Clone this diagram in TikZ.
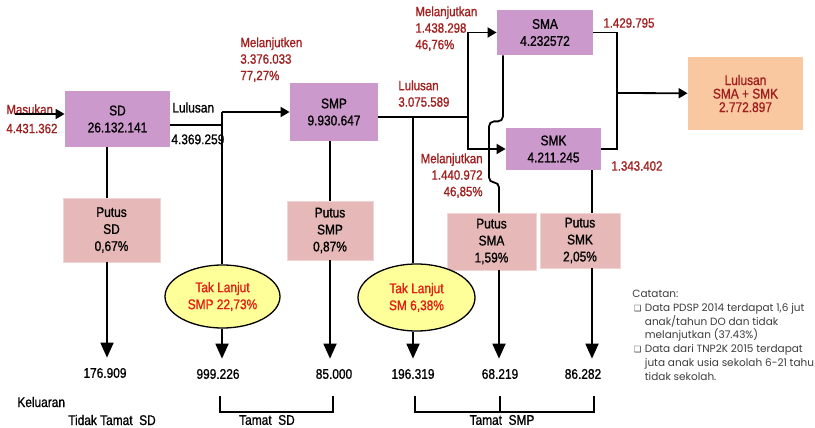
\documentclass[tikz,border=0pt]{standalone}
\usepackage{fontspec}
\setmainfont{Liberation Sans}[FakeStretch=0.85, FakeBold=1]
\newfontfamily\notefont{Poppins}
\newfontfamily\symfont{DejaVu Sans}
\usepackage{tikz}
\usetikzlibrary{shapes.geometric, arrows.meta, calc}
\definecolor{boxpurple}{RGB}{204,153,204}
\definecolor{putuspink}{RGB}{230,185,184}
\definecolor{takyellow}{RGB}{255,255,153}
\definecolor{lulusorange}{RGB}{250,200,160}
\definecolor{darkred}{RGB}{160,30,30}
\definecolor{takred}{RGB}{228,30,20}
\definecolor{notegray}{RGB}{60,60,60}
\newcommand{\bul}{\makebox[12.5pt][l]{\hspace{1.5pt}\symfont\fontsize{8.5}{8.5}\selectfont ❑}}
\newcommand{\ind}{\makebox[12.5pt][l]{}}
\tikzstyle{level} = [rectangle, font=\fontsize{14}{17}\selectfont, align=center, fill=boxpurple, inner sep=0pt]
\tikzstyle{putus} = [rectangle, font=\fontsize{14}{17}\selectfont, align=center, fill=putuspink, draw=putuspink!60!white, inner sep=0pt]
\tikzstyle{taklanjut} = [ellipse, font=\fontsize{14}{17}\selectfont, align=center, text=takred, fill=takyellow, draw=black, line width=1.3pt, inner sep=0pt]
\tikzstyle{redlabel} = [font=\fontsize{13.5}{16.5}\selectfont, text=darkred, align=left, inner sep=0pt]
\tikzstyle{blacktext} = [font=\fontsize{14}{17}\selectfont, inner sep=0pt]
\tikzstyle{outnum} = [font=\fontsize{14}{17}\selectfont, inner xsep=0pt, inner ysep=10pt]
\tikzstyle{catatan} = [font=\notefont\fontsize{10.5}{13.7}\selectfont, text=notegray, align=left, inner sep=0pt]
\tikzstyle{conn} = [line width=1.8pt]
\tikzstyle{arrow} = [line width=1.8pt,->,>={Triangle[length=9pt,width=10pt]}]
\tikzstyle{bigarrow} = [line width=1.8pt,->,>={Triangle[length=15pt,width=13pt]}]
\tikzstyle{bracket} = [line width=1.5pt]

\begin{document}
\begin{tikzpicture}[x=1pt,y=-1pt,thick]
\useasboundingbox (0,0) rectangle (815,428);
\clip (0,0) rectangle (815,428);

% levels
\node (sd) [level, minimum width=105pt, minimum height=56pt] at (117.5,119) {SD\\26.132.141};
\node (smp) [level, minimum width=88pt, minimum height=58pt] at (334,112) {SMP\\9.930.647};
\node (sma) [level, minimum width=96pt, minimum height=45pt] at (545,32.5) {SMA\\4.232572};
\node (smk) [level, minimum width=95pt, minimum height=42pt] at (553.5,149) {SMK\\4.211.245};
\node (lulus) [level, fill=lulusorange, text=darkred, font=\fontsize{14}{13.5}\selectfont, minimum width=115pt, minimum height=73pt] at (745.5,93.5) {Lulusan\\SMA + SMK\\2.772.897};

% drop outs
\node (putsd) [putus, minimum width=97pt, minimum height=64pt] at (111.5,230) {Putus\\SD\\0,67\%};
\node (putsmp) [putus, minimum width=86pt, minimum height=59pt] at (330,230.5) {Putus\\SMP\\0,87\%};
\node (putsma) [putus, minimum width=89pt, minimum height=57pt] at (491.5,241.5) {Putus\\SMA\\1,59\%};
\node (putsmk) [putus, minimum width=80pt, minimum height=55pt] at (580,240.5) {Putus\\SMK\\2,05\%};
\node (tlsmp) [taklanjut, minimum width=115pt, minimum height=63pt] at (222.5,296.5) {Tak Lanjut\\SMP 22,73\%};
\node (tlsm) [taklanjut, minimum width=117pt, minimum height=67pt] at (416.5,297.5) {Tak Lanjut\\SM 6,38\%};

% outputs
\node (o1) [outnum] at (105,373) {176.909};
\node (o2) [outnum] at (218,374) {999.226};
\node (o3) [outnum] at (334,374) {85.000};
\node (o4) [outnum] at (413,374) {196.319};
\node (o5) [outnum] at (500,374) {68.219};
\node (o6) [outnum] at (583,374) {86.282};

% labels
\node (masuk) [redlabel, font=\fontsize{13.5}{19}\selectfont, anchor=north west] at (6,104) {Masukan\\4.431.362};
\node (lulsd) [blacktext, anchor=south west] at (172,113) {Lulusan};
\node (nlulsd) [blacktext, anchor=north west] at (171,134) {4.369.259};
\node (lanjsmp) [redlabel, anchor=north west] at (240,37) {Melanjutken\\3.376.033\\77,27\%};
\node (lulsmp) [redlabel, anchor=north west] at (398,80) {Lulusan\\3.075.589};
\node (lanjsma) [redlabel, anchor=north west] at (415,6) {Melanjutkan\\1.438.298\\46,76\%};
\node (lanjsmk) [redlabel, align=right, anchor=north east] at (483,153) {Melanjutkan\\1.440.972\\46,85\%};
\node (nsma) [redlabel, anchor=west] at (603,23) {1.429.795};
\node (nsmk) [redlabel, anchor=west] at (611,166) {1.343.402};
\node (kel) [blacktext, anchor=west] at (17,402) {Keluaran};
\node (ttsd) [blacktext] at (112,420) {Tidak Tamat\ \ SD};
\node (tsd) [blacktext] at (267,420) {Tamat\ \ SD};
\node (tsmp) [blacktext] at (502,420) {Tamat\ \ SMP};
\node (notes) [catatan, anchor=north west] at (632,290) {Catatan:\\
\bul Data PDSP 2014 terdapat 1,6 jut\\
\ind anak/tahun DO dan tidak\\
\ind melanjutkan (37.43\%)\\
\bul Data dari TNP2K 2015 terdapat\\
\ind juta anak usia sekolah 6-21 tahu\\
\ind tidak sekolah.};

% junctions and drop lines
\coordinate (in) at (15,114);
\coordinate (jsd) at (222,112);
\coordinate (jsdb) at (222,125);
\coordinate (jsmp) at (468,117);
\coordinate (jsm) at (413,117);
\coordinate (jlu) at (617,93);
\coordinate (xsd) at (107,0);
\coordinate (xsmp) at (330,0);
\coordinate (xsma) at (499,0);
\coordinate (xsmk) at (592,0);

\draw [arrow] (in) -- (sd.west |- in);
\draw [conn] (sd.east |- jsdb) -- (jsdb);
\draw [arrow] (jsd) -- (smp.west |- jsd);
\draw [conn] (jsd) -- (jsd |- tlsmp.north);
\draw [conn] (smp.east |- jsmp) -- (jsmp);
\draw [conn] (jsm) -- (jsm |- tlsm.north);
\draw [arrow] (jsmp) |- (sma);
\draw [arrow] (jsmp) |- (smk);
\draw [conn] (sma) -| (jlu) |- (smk);
\draw [arrow] (jlu) -- (lulus);

\draw [conn] (sd.south -| xsd) -- (putsd.north -| xsd);
\draw [conn] (smp.south -| xsmp) -- (putsmp.north -| xsmp);
\draw [conn, rounded corners=5pt] ([xshift=-42pt]sma.south) -- ++(0,66) -- ++(-14,0) -- ++(0,61) -- ++(10,0) |- (putsma.north -| xsma);
\draw [conn] (smk.south -| xsmk) -- (putsmk.north -| xsmk);

\draw [bigarrow] (putsd.south -| xsd) -- (o1.north -| xsd);
\draw [bigarrow] (tlsmp.south -| jsd) -- (o2.north -| jsd);
\draw [bigarrow] (putsmp.south -| xsmp) -- (o3.north -| xsmp);
\draw [bigarrow] (tlsm.south -| jsm) -- (o4.north -| jsm);
\draw [bigarrow] (putsma.south -| xsma) -- (o5.north -| xsma);
\draw [bigarrow] (putsmk.south -| xsmk) -- (o6.north -| xsmk);

% brackets
\draw [bracket] (220,396) |- (333,412) -- (333,396);
\draw [bracket] (415,396) |- (594,412) -- (594,396);
\draw [bracket] (500,396) -- (500,412);
\end{tikzpicture}
\end{document}
